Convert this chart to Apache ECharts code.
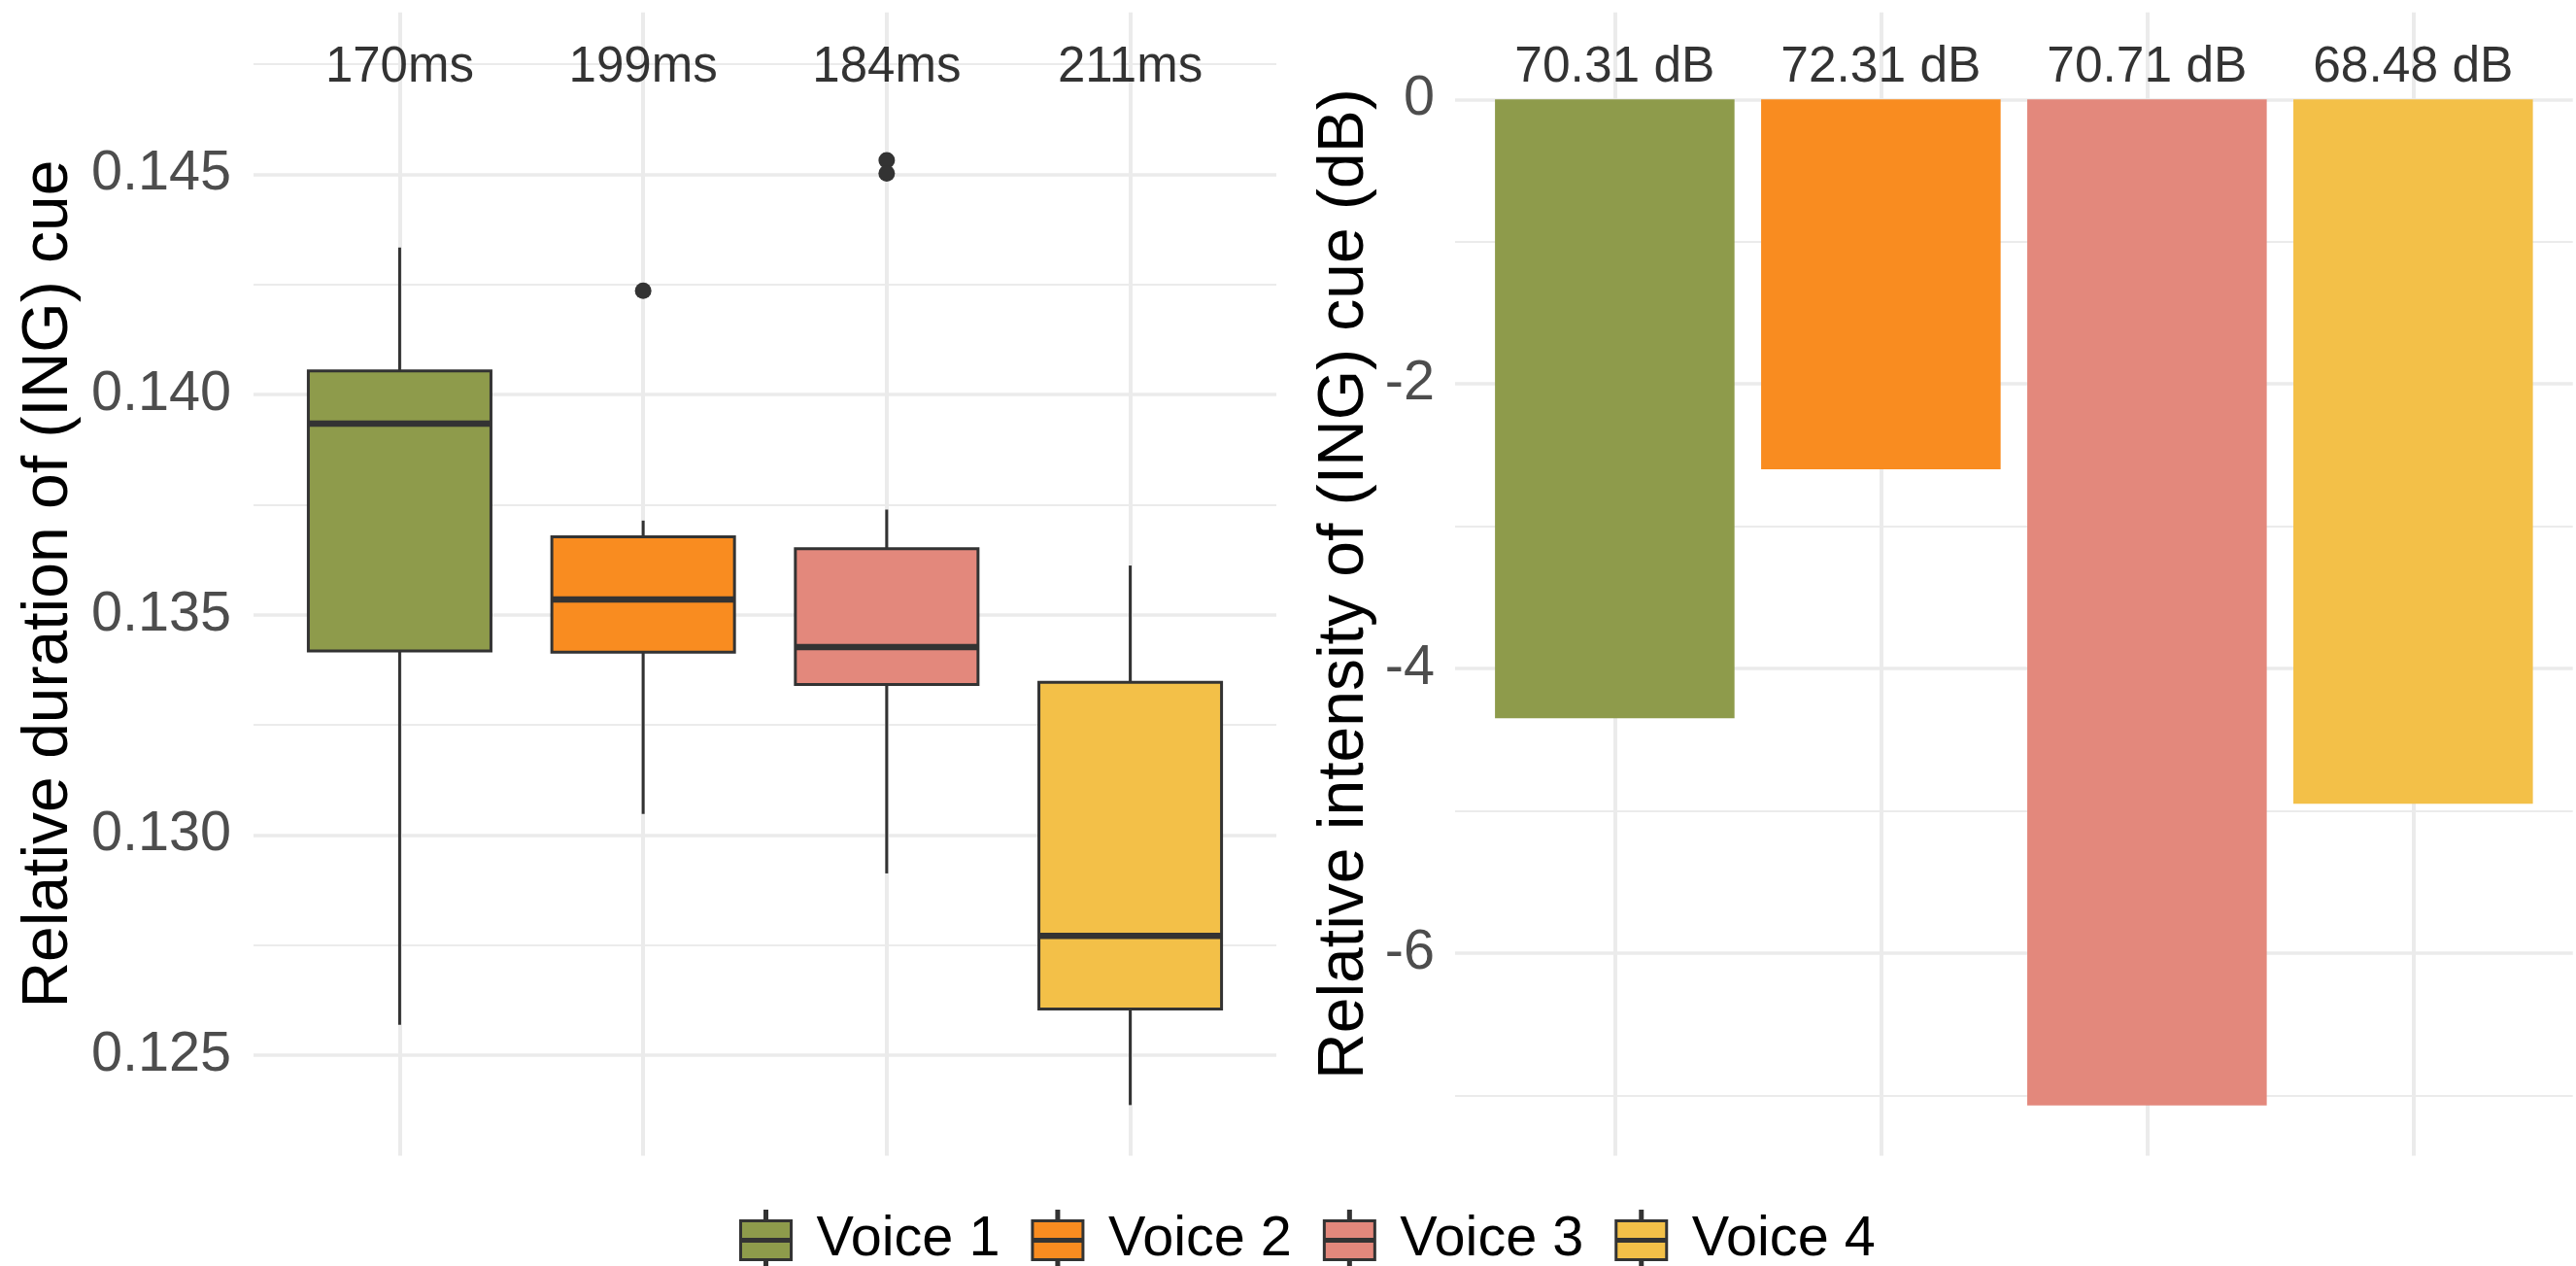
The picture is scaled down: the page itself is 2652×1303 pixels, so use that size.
<!DOCTYPE html>
<html>
<head>
<meta charset="utf-8">
<script src="https://cdn.jsdelivr.net/npm/echarts@6/dist/echarts.min.js"></script>
<style>
  html, body { margin: 0; padding: 0; background: #ffffff; }
  #chart { width: 2652px; height: 1303px; }
</style>
</head>
<body>
<div id="chart"></div>
<script>
// Voices and their x positions (shared by both panels)
const voices = ['Voice 1', 'Voice 2', 'Voice 3', 'Voice 4'];
const positions = [1, 2, 3, 4];
const voiceColors = ['#8E9B4B', '#F98C20', '#E3887C', '#F3C048'];

// Relative duration of the (ING) cue: five-number summaries per voice
const durMin = [0.12569, 0.13048, 0.12913, 0.12387];
const durQ1  = [0.13418, 0.13415, 0.13342, 0.12605];
const durMed = [0.13934, 0.13535, 0.13427, 0.12771];
const durQ3  = [0.14054, 0.13677, 0.13650, 0.13347];
const durMax = [0.14334, 0.13714, 0.13739, 0.13612];

// Outlying observations
const outlierPos   = [2, 3, 3];
const outlierValue = [0.14236, 0.14532, 0.14502];

// Mean absolute durations printed above each box
const durLabels = ['170ms', '199ms', '184ms', '211ms'];
const durLabelY = 0.1475;

// Relative intensity of the (ING) cue (dB) and absolute levels
const intensity = [-4.35, -2.60, -7.07, -4.95];
const dbLabels = ['70.31 dB', '72.31 dB', '70.71 dB', '68.48 dB'];
const dbLabelY = 0.25;

// Axis ticks
const durTicks = [0.125, 0.130, 0.135, 0.140, 0.145];
const durMinorTicks = [0.1275, 0.1325, 0.1375, 0.1425, 0.1475];
const durRange = [0.12272, 0.14868];
const dbTicks = [-6, -4, -2, 0];
const dbMinorTicks = [-7, -5, -3, -1];
const dbRange = [-7.424, 0.612];
const xRange = [0.4, 4.6];

const FONT = '"Liberation Sans", Arial, Helvetica, sans-serif';
const GRID_COLOR = '#EBEBEB';
const OUTLINE = '#333333';
const BOX_WIDTH = 0.75;

const boxData = positions.map((p, i) => [p, durMin[i], durQ1[i], durMed[i], durQ3[i], durMax[i]]);

function renderBox(params, api) {
  const x = api.value(0);
  const half = api.size([BOX_WIDTH, 0])[0] / 2;
  const pMin = api.coord([x, api.value(1)]);
  const pQ1 = api.coord([x, api.value(2)]);
  const pMed = api.coord([x, api.value(3)]);
  const pQ3 = api.coord([x, api.value(4)]);
  const pMax = api.coord([x, api.value(5)]);
  const fill = voiceColors[params.dataIndex];
  return {
    type: 'group',
    children: [
      { type: 'line', shape: { x1: pMax[0], y1: pMax[1], x2: pQ3[0], y2: pQ3[1] },
        style: { stroke: OUTLINE, lineWidth: 3 } },
      { type: 'line', shape: { x1: pQ1[0], y1: pQ1[1], x2: pMin[0], y2: pMin[1] },
        style: { stroke: OUTLINE, lineWidth: 3 } },
      { type: 'rect', shape: { x: pQ3[0] - half, y: pQ3[1], width: 2 * half, height: pQ1[1] - pQ3[1] },
        style: { fill: fill, stroke: OUTLINE, lineWidth: 3 } },
      { type: 'line', shape: { x1: pMed[0] - half, y1: pMed[1], x2: pMed[0] + half, y2: pMed[1] },
        style: { stroke: OUTLINE, lineWidth: 6.5 } }
    ]
  };
}

function valueAxis(gridIndex, range, ticks, labels, extra) {
  return Object.assign({
    type: 'value',
    gridIndex: gridIndex,
    min: range[0],
    max: range[1],
    axisLine: { show: false },
    axisTick: { show: false, customValues: ticks },
    axisLabel: labels,
    splitLine: { show: true, lineStyle: { color: GRID_COLOR, width: 3.5 } }
  }, extra || {});
}

const yLabelStyle = { fontFamily: FONT, fontSize: 57.6, color: '#4D4D4D' };
const titleStyle = { fontFamily: FONT, fontSize: 66, color: '#000000' };

const legendIcon = 'path://M25,0 H27 V10 H52 V50 H27 V60 H25 V50 H0 V10 H25 Z M0,29 H52 V31 H0 Z';

const option = {
  backgroundColor: '#ffffff',
  animation: false,
  grid: [
    { left: 261, top: 12.7, width: 1053, height: 1176.8 },
    { left: 1498, top: 12.7, width: 1150.7, height: 1176.8 }
  ],
  xAxis: [
    valueAxis(0, xRange, positions, { show: false }, { splitLine: { show: true, lineStyle: { color: GRID_COLOR, width: 4 } } }),
    valueAxis(1, xRange, positions, { show: false }, { splitLine: { show: true, lineStyle: { color: GRID_COLOR, width: 4 } } })
  ],
  yAxis: [
    valueAxis(0, durRange, durTicks,
      Object.assign({ customValues: durTicks, margin: 23, formatter: v => v.toFixed(3) }, yLabelStyle),
      { name: 'Relative duration of (ING) cue', nameLocation: 'middle', nameRotate: 90, nameGap: 177, nameTextStyle: titleStyle }),
    valueAxis(0, durRange, durMinorTicks, { show: false },
      { splitLine: { show: true, lineStyle: { color: GRID_COLOR, width: 2 } } }),
    valueAxis(1, dbRange, dbTicks,
      Object.assign({ customValues: dbTicks, margin: 21, formatter: v => String(v) }, yLabelStyle),
      { name: 'Relative intensity of (ING) cue (dB)', nameLocation: 'middle', nameRotate: 90, nameGap: 80, nameTextStyle: titleStyle }),
    valueAxis(1, dbRange, dbMinorTicks, { show: false },
      { splitLine: { show: true, lineStyle: { color: GRID_COLOR, width: 2 } } })
  ],
  legend: {
    data: voices,
    left: 756,
    top: 1240,
    orient: 'horizontal',
    icon: legendIcon,
    itemWidth: 52,
    itemHeight: 60,
    itemGap: 32,
    selectedMode: false,
    itemStyle: { borderColor: OUTLINE, borderWidth: 3 },
    textStyle: { fontFamily: FONT, fontSize: 57.6, color: '#000000', padding: [0, 0, 0, 21] }
  },
  series: [
    {
      type: 'custom',
      name: 'duration',
      xAxisIndex: 0,
      yAxisIndex: 0,
      renderItem: renderBox,
      dimensions: ['x', 'min', 'q1', 'median', 'q3', 'max'],
      encode: { x: 0, y: [1, 2, 3, 4, 5] },
      data: boxData,
      z: 3
    },
    {
      type: 'scatter',
      name: 'outliers',
      xAxisIndex: 0,
      yAxisIndex: 0,
      symbolSize: 17,
      itemStyle: { color: OUTLINE, opacity: 1 },
      data: outlierPos.map((p, i) => [p, outlierValue[i]]),
      z: 4
    },
    {
      type: 'scatter',
      name: 'durationLabels',
      xAxisIndex: 0,
      yAxisIndex: 0,
      symbolSize: 0,
      silent: true,
      label: {
        show: true, position: 'inside', offset: [0, 4],
        formatter: p => durLabels[p.dataIndex],
        fontFamily: FONT, fontSize: 51, color: '#000000'
      },
      data: positions.map(p => [p, durLabelY]),
      z: 5
    },
    ...voices.map((name, i) => ({
      type: 'bar',
      name: name,
      xAxisIndex: 1,
      yAxisIndex: 2,
      barWidth: '90%',
      barGap: '-100%',
      itemStyle: { color: voiceColors[i] },
      data: [[positions[i], intensity[i]]],
      z: 3
    })),
    {
      type: 'scatter',
      name: 'levelLabels',
      xAxisIndex: 1,
      yAxisIndex: 2,
      symbolSize: 0,
      silent: true,
      label: {
        show: true, position: 'inside', offset: [0, 4],
        formatter: p => dbLabels[p.dataIndex],
        fontFamily: FONT, fontSize: 51.5, color: '#000000'
      },
      data: positions.map(p => [p, dbLabelY]),
      z: 5
    }
  ]
};

const chart = echarts.init(document.getElementById('chart'), null, { renderer: 'canvas' });
chart.setOption(option);
</script>
</body>
</html>
